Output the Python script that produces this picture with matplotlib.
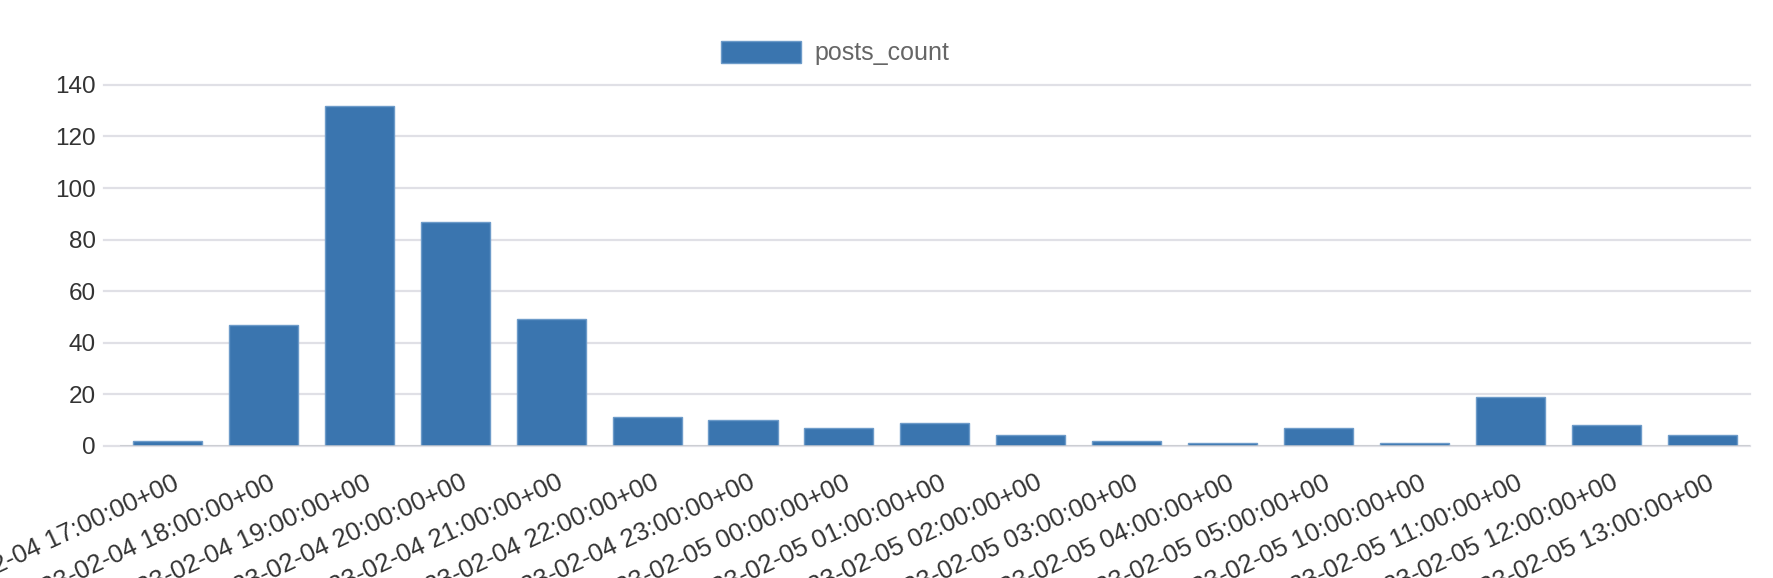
import matplotlib.pyplot as plt
import matplotlib.transforms as mtransforms

plt.rcParams['font.family'] = ['Liberation Sans', 'DejaVu Sans']

# hourly buckets and post counts
hours = ['2023-02-04 17:00:00+00', '2023-02-04 18:00:00+00', '2023-02-04 19:00:00+00',
         '2023-02-04 20:00:00+00', '2023-02-04 21:00:00+00', '2023-02-04 22:00:00+00',
         '2023-02-04 23:00:00+00', '2023-02-05 00:00:00+00', '2023-02-05 01:00:00+00',
         '2023-02-05 02:00:00+00', '2023-02-05 03:00:00+00', '2023-02-05 04:00:00+00',
         '2023-02-05 05:00:00+00', '2023-02-05 10:00:00+00', '2023-02-05 11:00:00+00',
         '2023-02-05 12:00:00+00', '2023-02-05 13:00:00+00']
posts_count = [2, 47, 132, 87, 49, 11, 10, 7, 9, 4, 2, 1, 7, 1, 19, 8, 4]
y_ticks = [0, 20, 40, 60, 80, 100, 120, 140]

bar_color = '#3a75af'
grid_color = '#e0e0e6'

fig = plt.figure(figsize=(17.74, 5.78), dpi=100)
ax = fig.add_axes([0.0674, 0.2289, 0.9191, 0.6241])

x = list(range(len(hours)))
ax.bar(x, posts_count, width=0.72, color=bar_color, edgecolor='#6d9bc9',
       linewidth=1, label='posts_count', zorder=3)

ax.set_xlim(-0.5, len(hours) - 0.5)
ax.set_ylim(0, 140)

# gridlines poke out a little to the left of the axis, like the original
for v in y_ticks:
    ax.axhline(v, xmin=-0.0095, xmax=1, color=grid_color, lw=1.6,
               clip_on=False, zorder=1)
ax.axhline(0, color='#c6c9ce', lw=1.8, zorder=4)

for s in ax.spines.values():
    s.set_visible(False)

ax.set_yticks(y_ticks)
ax.tick_params(axis='y', length=0, pad=17, labelsize=17.5, labelcolor='#333333')

ax.set_xticks(x)
ax.set_xticklabels(hours)
ax.tick_params(axis='x', length=0, pad=18, labelsize=18.5, labelcolor='#333333')
shift = mtransforms.ScaledTranslation(5 / 100, 0, fig.dpi_scale_trans)
for lbl in ax.get_xticklabels():
    lbl.set_rotation(25)
    lbl.set_ha('right')
    lbl.set_va('top')
    lbl.set_rotation_mode('anchor')
    lbl.set_transform(lbl.get_transform() + shift)

fig.legend(loc='center', bbox_to_anchor=(0.4707, 0.908), frameon=False,
           fontsize=18, handlelength=3.2, handleheight=0.96,
           handletextpad=0.52, borderpad=0, labelcolor='#666666')

fig.savefig('out.png', dpi=100)
